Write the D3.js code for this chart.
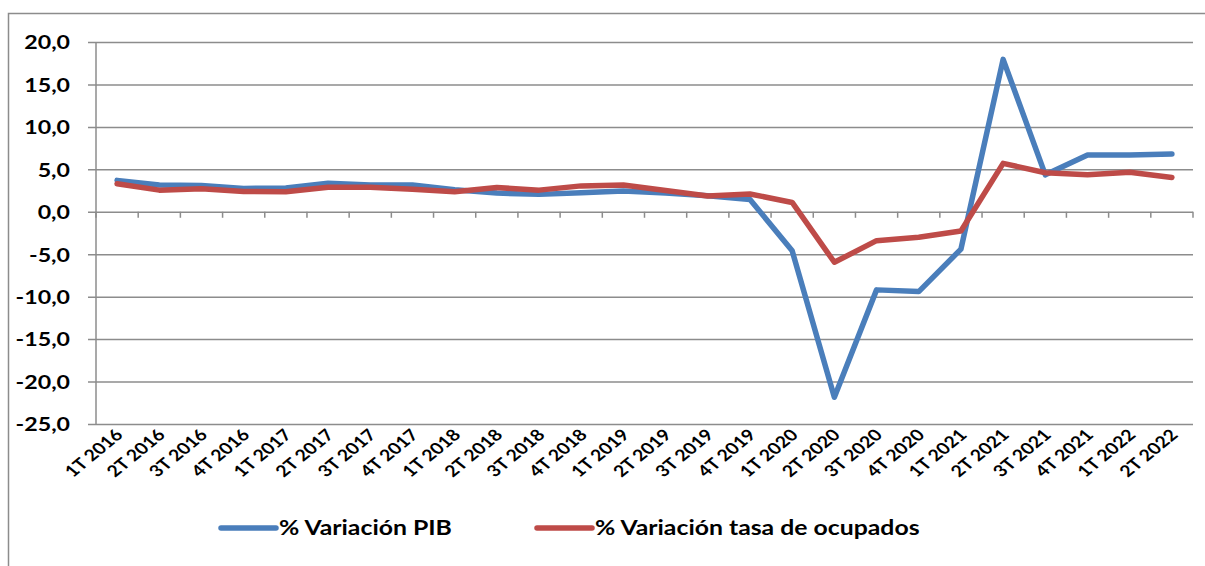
<!DOCTYPE html>
<html>
<head>
<meta charset="utf-8">
<script src="https://cdn.jsdelivr.net/npm/d3@7"></script>
<style>
  body { margin: 0; background: #fff; }
  svg text { font-family: Lato, "Open Sans", sans-serif; font-weight: bold; fill: #000; }
</style>
</head>
<body>
<script>
// Quarters on the x axis
var quarters = [
  '1T 2016', '2T 2016', '3T 2016', '4T 2016',
  '1T 2017', '2T 2017', '3T 2017', '4T 2017',
  '1T 2018', '2T 2018', '3T 2018', '4T 2018',
  '1T 2019', '2T 2019', '3T 2019', '4T 2019',
  '1T 2020', '2T 2020', '3T 2020', '4T 2020',
  '1T 2021', '2T 2021', '3T 2021', '4T 2021',
  '1T 2022', '2T 2022'
];

// % Variación PIB
var pib = [3.7, 3.15, 3.1, 2.75, 2.8, 3.35, 3.15, 3.15, 2.6, 2.2, 2.05, 2.25, 2.45,
  2.2, 1.9, 1.45, -4.6, -21.85, -9.2, -9.4, -4.4, 17.95, 4.35, 6.7, 6.7, 6.8];

// % Variación tasa de ocupados
var ocupados = [3.3, 2.55, 2.7, 2.4, 2.35, 2.9, 2.9, 2.65, 2.35, 2.85, 2.55, 3.05, 3.15,
  2.5, 1.85, 2.1, 1.1, -5.95, -3.4, -3.0, -2.26, 5.7, 4.6, 4.35, 4.65, 4.05];

var yTicks = [20, 15, 10, 5, 0, -5, -10, -15, -20, -25];

var seriesNames = ['% Variación PIB', '% Variación tasa de ocupados'];
var seriesColors = ['#4a7ebb', '#be4b48'];

var svg_width = 1205;
var svg_height = 566;

// plot area
var plot_left = 96;
var plot_right = 1193;
var plot_top = 42;
var plot_bottom = 424;

var grid_color = '#8c8c8c';
// the source picture is a bit wider than tall, so the text is stretched sideways
var stretch = 1.22;

var svg = d3.select('body').append('svg')
  .attr('width', svg_width)
  .attr('height', svg_height);

// outer chart border (only top and left visible)
svg.append('path')
  .attr('d', 'M8.5,' + svg_height + 'V13.5H' + svg_width)
  .attr('fill', 'none')
  .attr('stroke', grid_color)
  .attr('stroke-width', 1.5);

var x = d3.scaleBand()
  .domain(quarters)
  .range([plot_left, plot_right]);

var y = d3.scaleLinear()
  .domain([-25, 20])
  .range([plot_bottom, plot_top]);

// horizontal gridlines + y labels
var yAxis = d3.axisLeft(y)
  .tickValues(yTicks)
  .tickSize(-(plot_right - plot_left))
  .tickPadding(0)
  .tickFormat(function(d) { return d3.format('.1f')(d).replace('.', ',').replace('−', '-'); });

var yg = svg.append('g')
  .attr('transform', 'translate(' + plot_left + ',0)')
  .call(yAxis);
yg.select('.domain').remove();
yg.selectAll('.tick line')
  .attr('x1', -8)
  .attr('stroke', grid_color)
  .attr('stroke-width', 1.5);
yg.selectAll('.tick text')
  .attr('x', 0)
  .attr('dy', '0.36em')
  .attr('transform', 'translate(-26,0) scale(' + stretch + ',1)')
  .style('font-size', '19px');

// vertical axis line
svg.append('line')
  .attr('x1', plot_left).attr('x2', plot_left)
  .attr('y1', plot_top).attr('y2', plot_bottom)
  .attr('stroke', grid_color)
  .attr('stroke-width', 1.5);

// category tick marks hanging below the zero line
var boundaries = quarters.map(function(d) { return x(d); }).concat([plot_right]);
svg.selectAll('line.x-tick')
  .data(boundaries)
  .enter()
  .append('line')
  .attr('class', 'x-tick')
  .attr('x1', function(d) { return d; })
  .attr('x2', function(d) { return d; })
  .attr('y1', y(0))
  .attr('y2', y(0) + 6)
  .attr('stroke', grid_color)
  .attr('stroke-width', 1.5);

// rotated category labels under the plot
svg.selectAll('text.x-label')
  .data(quarters)
  .enter()
  .append('text')
  .attr('class', 'x-label')
  .attr('text-anchor', 'end')
  .attr('transform', function(d) {
    return 'translate(' + (x(d) + x.bandwidth() / 2 + 7) + ',' + (plot_bottom + 12) + ')' +
      ' scale(' + stretch + ',1) rotate(-45)';
  })
  .style('font-size', '16px')
  .text(function(d) { return d; });

// the two series
var line = d3.line()
  .x(function(d, i) { return x(quarters[i]) + x.bandwidth() / 2; })
  .y(function(d) { return y(d); });

[pib, ocupados].forEach(function(series, k) {
  svg.append('path')
    .datum(series)
    .attr('d', line)
    .attr('fill', 'none')
    .attr('stroke', seriesColors[k])
    .attr('stroke-width', 5.5)
    .attr('stroke-linejoin', 'round')
    .attr('stroke-linecap', 'round');
});

// legend
var legend_x = [221, 537];
var legend_y = 528;
seriesNames.forEach(function(name, k) {
  svg.append('line')
    .attr('x1', legend_x[k]).attr('x2', legend_x[k] + 55)
    .attr('y1', legend_y).attr('y2', legend_y)
    .attr('stroke', seriesColors[k])
    .attr('stroke-width', 5.5)
    .attr('stroke-linecap', 'round');
  svg.append('text')
    .attr('transform', 'translate(' + (legend_x[k] + 58) + ',' + legend_y + ') scale(' + (stretch + 0.02) + ',1)')
    .attr('dy', '0.36em')
    .style('font-size', '20px')
    .text(name);
});
</script>
</body>
</html>
